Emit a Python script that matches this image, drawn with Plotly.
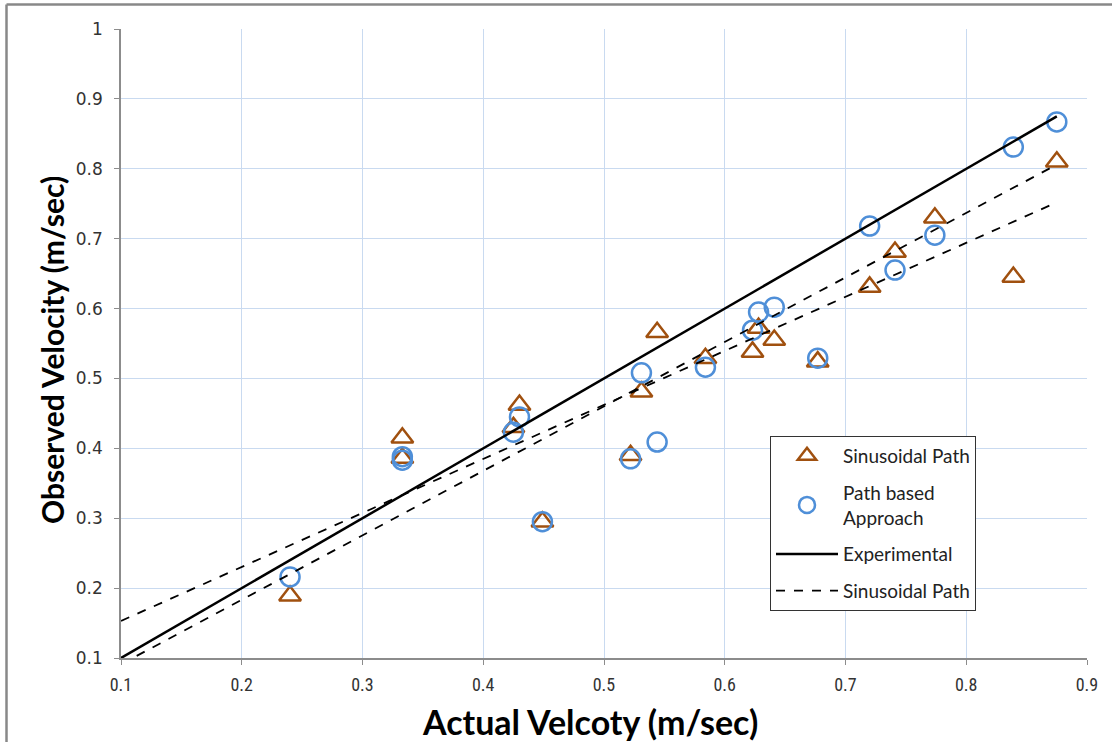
import plotly.graph_objects as go

# Actual velocity (x) for each sample
actual = [0.24, 0.333, 0.333, 0.43, 0.425, 0.449, 0.522, 0.531, 0.544, 0.584,
          0.623, 0.628, 0.641, 0.677, 0.720, 0.741, 0.774, 0.839, 0.875]
# Observed velocity - Sinusoidal Path (triangles)
sinusoidal = [0.189, 0.415, 0.386, 0.462, 0.430, 0.295, 0.390, 0.481, 0.566, 0.529,
              0.538, 0.572, 0.555, 0.524, 0.631, 0.681, 0.730, 0.645, 0.810]
# Observed velocity - Path based Approach (circles)
path_based = [0.216, 0.388, 0.383, 0.445, 0.423, 0.295, 0.385, 0.508, 0.409, 0.516,
              0.569, 0.595, 0.602, 0.529, 0.718, 0.655, 0.705, 0.831, 0.867]

# Reference / fit lines (endpoints)
exp_x = [0.1, 0.875]
exp_y = [0.1, 0.875]
fit1_x = [0.113, 0.875]
fit1_y = [0.103, 0.806]
fit2_x = [0.1, 0.875]
fit2_y = [0.153, 0.752]

x_ticks = [0.1, 0.2, 0.3, 0.4, 0.5, 0.6, 0.7, 0.8, 0.9]
y_ticks = [0.1, 0.2, 0.3, 0.4, 0.5, 0.6, 0.7, 0.8, 0.9, 1]

W, H = 1112, 742
L, R, T, B = 121, 25, 29, 84
PW, PH = W - L - R, H - T - B


def px(xp):
    return (xp - L) / PW


def py(yp):
    return (H - B - yp) / PH


fig = go.Figure()

fig.add_trace(go.Scatter(x=actual, y=sinusoidal, mode="markers", name="Sinusoidal Path",
                         legendgroup="g1",
                         marker=dict(symbol="triangle-up-open", size=19, color="#A0500F",
                                     line=dict(width=2.5, color="#A0500F"))))
fig.add_trace(go.Scatter(x=actual, y=path_based, mode="markers", name="Path based<br>Approach",
                         legendgroup="g2",
                         marker=dict(symbol="circle-open", size=19, color="#4F8FD8",
                                     line=dict(width=2.5, color="#4F8FD8"))))
fig.add_trace(go.Scatter(x=exp_x, y=exp_y, mode="lines", name="Experimental",
                         legendgroup="g3",
                         line=dict(color="black", width=2.5)))
fig.add_trace(go.Scatter(x=fit1_x, y=fit1_y, mode="lines", name="Sinusoidal Path",
                         legendgroup="g4",
                         line=dict(color="black", width=1.8, dash="dash")))
fig.add_trace(go.Scatter(x=fit2_x, y=fit2_y, mode="lines", name="fit2", showlegend=False,
                         legendgroup="g5",
                         line=dict(color="black", width=1.8, dash="dash")))

title_font = "Lato, Calibri, sans-serif"

fig.update_layout(
    width=W, height=H,
    margin=dict(l=L, r=R, t=T, b=B),
    paper_bgcolor="white", plot_bgcolor="white",
    showlegend=True,
    legend=dict(x=px(770), y=py(436), xanchor="left", yanchor="top",
                bgcolor="white", bordercolor="#333333", borderwidth=1,
                font=dict(family="Lato, Calibri, sans-serif", size=19, color="#222222"),
                traceorder="grouped", tracegroupgap=9, itemwidth=62, entrywidth=244),
    xaxis=dict(range=[0.1, 0.9], tickvals=x_ticks, ticktext=[str(v) for v in x_ticks],
               showgrid=True, gridcolor="#C9DAF0", gridwidth=1,
               showline=True, linecolor="#8C8C8C", linewidth=1.5,
               ticks="outside", ticklen=5, tickcolor="#8C8C8C",
               tickfont=dict(family="Liberation Sans Narrow, Roboto Condensed, Roboto, sans-serif", size=18, color="#333333"),
               zeroline=False, ticklabelstandoff=5),
    yaxis=dict(range=[0.1, 1.0], tickvals=y_ticks, ticktext=[str(v) for v in y_ticks],
               showgrid=True, gridcolor="#C9DAF0", gridwidth=1,
               showline=True, linecolor="#8C8C8C", linewidth=1.5,
               ticks="outside", ticklen=5, tickcolor="#8C8C8C",
               tickfont=dict(family="DejaVu Sans, Verdana, sans-serif", size=17, color="#333333"),
               zeroline=False, ticklabelstandoff=8),
    annotations=[
        dict(text="<b>Actual Velcoty (m/sec)</b>", x=px(590), y=py(721), xref="paper", yref="paper",
             showarrow=False, xanchor="center", yanchor="middle",
             font=dict(family=title_font, size=34, color="black")),
        dict(text="<b>Observed Velocity (m/sec)</b>", x=px(52), y=py(350), xref="paper", yref="paper",
             showarrow=False, xanchor="center", yanchor="middle", textangle=-90,
             font=dict(family=title_font, size=30, color="black")),
    ],
    shapes=[
        dict(type="line", xref="paper", yref="paper", x0=px(6.5), x1=px(6.5), y0=py(4.5), y1=py(742),
             line=dict(color="#888888", width=2.5)),
        dict(type="line", xref="paper", yref="paper", x0=px(6.5), x1=px(1112), y0=py(4.5), y1=py(4.5),
             line=dict(color="#888888", width=2.5)),
    ],
)

fig.write_html("out.html")
